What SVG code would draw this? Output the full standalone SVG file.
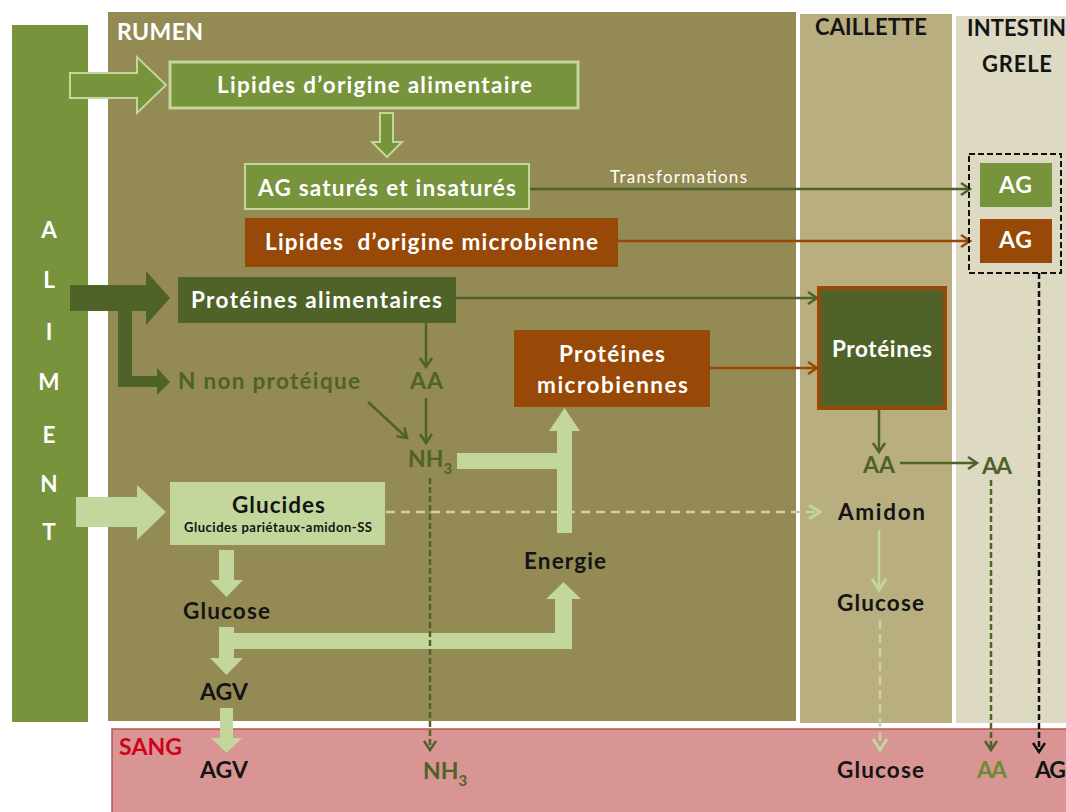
<svg xmlns="http://www.w3.org/2000/svg" width="1066" height="812" viewBox="0 0 1066 812">
<style>
text{font-family:Lato,"Liberation Sans",sans-serif;font-weight:700;font-size:22.5px}
.w{fill:#ffffff}
.k{fill:#141414}
.g{fill:#4F6228}
.c{font-size:23px}
.h{font-size:22px}
.hb{font-size:23px}
.big{font-size:25px}
.sm{font-size:17px;font-weight:400}
.tiny{font-size:13px}
.pre{white-space:pre}
.ln{fill:none;stroke-width:2.5}
.dg{stroke:#4F6228}
.br{stroke:#984807}
.lg{stroke:#C3D69B}
.bk{stroke:#111111}
</style>
<defs>
<marker id="mdg" viewBox="0 0 10 12" refX="9" refY="6" markerWidth="10" markerHeight="12" markerUnits="userSpaceOnUse" orient="auto" overflow="visible"><path d="M0,0 L9,6 L0,12" fill="none" stroke="#4F6228" stroke-width="2.5"/></marker>
<marker id="mbr" viewBox="0 0 10 12" refX="9" refY="6" markerWidth="10" markerHeight="12" markerUnits="userSpaceOnUse" orient="auto" overflow="visible"><path d="M0,0 L9,6 L0,12" fill="none" stroke="#984807" stroke-width="2.5"/></marker>
<marker id="mlg" viewBox="0 0 12 14" refX="11" refY="7" markerWidth="12" markerHeight="14" markerUnits="userSpaceOnUse" orient="auto" overflow="visible"><path d="M0,0 L11,7 L0,14" fill="none" stroke="#C3D69B" stroke-width="3"/></marker>
<marker id="mbk" viewBox="0 0 10 12" refX="9" refY="6" markerWidth="10" markerHeight="12" markerUnits="userSpaceOnUse" orient="auto" overflow="visible"><path d="M0,0 L9,6 L0,12" fill="none" stroke="#111111" stroke-width="2.5"/></marker>
</defs>
<rect width="1066" height="812" fill="#ffffff"/>
<g id="panels">
<rect x="108" y="12" width="688" height="709" fill="#948A54"/>
<rect x="800" y="14" width="152" height="709" fill="#B8AE80"/>
<rect x="956" y="16" width="115" height="707" fill="#DDD9C3"/>
<rect x="112" y="729" width="960" height="90" fill="#D99594" stroke="#C0504D" stroke-width="1.5"/>
<text x="117" y="40" class="w hb" textLength="86">RUMEN</text>
<text x="815" y="35" class="k h" textLength="112">CAILLETTE</text>
<text x="967" y="36" class="k h" textLength="99">INTESTIN</text>
<text x="982" y="72" class="k h" textLength="70">GRELE</text>
<text x="119" y="755" class="hb" fill="#D0021B" textLength="63">SANG</text>
</g>
<g id="aliment">
<rect x="12" y="25" width="76" height="697" fill="#77933C"/>
<g class="w big" text-anchor="middle">
<text x="49" y="238">A</text><text x="49" y="288">L</text><text x="49" y="340">I</text><text x="49" y="390">M</text><text x="49" y="443">E</text><text x="49" y="492">N</text><text x="49" y="540">T</text>
</g>
</g>
<g id="connectors">
<polygon points="70,73 137,73 137,57 166,85 137,113 137,98 70,98" fill="#77933C" stroke="#C3D69B" stroke-width="2"/>
<polygon points="380,113 393,113 393,142 402,142 387,157 372,142 380,142" fill="#77933C" stroke="#C3D69B" stroke-width="2"/>
<polygon points="70,285 146,285 146,271 170,298 146,325 146,311 132,311 132,376 157,376 157,368 170,382 157,395 157,387 118,387 118,311 70,311" fill="#4F6228"/>
<polygon points="76,497 137,497 137,485 166,512 137,540 137,527 76,527" fill="#C3D69B"/>
<polygon points="219,550 234,550 234,580 243,580 226.5,597 210,580 219,580" fill="#C3D69B"/>
<polygon points="219,627 234,627 234,633 555,633 555,599 546,599 563.5,582 581,599 572,599 572,649 234,649 234,658 243,658 226.5,675 210,658 219,658" fill="#C3D69B"/>
<polygon points="220,708 233,708 233,738 242,738 226.5,753 211,738 220,738" fill="#C3D69B"/>
<polygon points="457,453 557,453 557,431 549,431 564.5,408 580,431 572,431 572,533 557,533 557,469 457,469" fill="#C3D69B"/>
<line x1="530" y1="189" x2="970" y2="189" class="ln dg" marker-end="url(#mdg)"/>
<line x1="618" y1="241" x2="970" y2="241" class="ln br" marker-end="url(#mbr)"/>
<line x1="456" y1="298" x2="817" y2="298" class="ln dg" marker-end="url(#mdg)"/>
<line x1="710" y1="368" x2="817" y2="368" class="ln br" marker-end="url(#mbr)"/>
<line x1="426" y1="323" x2="426" y2="367" class="ln dg" marker-end="url(#mdg)"/>
<line x1="426" y1="398" x2="426" y2="443" class="ln dg" marker-end="url(#mdg)"/>
<line x1="368" y1="402" x2="407" y2="438" class="ln dg" marker-end="url(#mdg)"/>
<line x1="879" y1="409" x2="879" y2="452" class="ln dg" marker-end="url(#mdg)"/>
<line x1="900" y1="463" x2="977" y2="463" class="ln dg" marker-end="url(#mdg)"/>
<line x1="386" y1="512" x2="820" y2="512" class="ln lg" stroke-width="3.5" stroke-dasharray="9 6" marker-end="url(#mlg)"/>
<line x1="430" y1="478" x2="430" y2="750" class="ln dg" stroke-dasharray="6 3" marker-end="url(#mdg)"/>
<line x1="991" y1="480" x2="991" y2="750" class="ln dg" stroke-dasharray="6 3" marker-end="url(#mdg)"/>
<line x1="1039" y1="273" x2="1039" y2="752" class="ln bk" stroke-dasharray="6 3" marker-end="url(#mbk)"/>
<line x1="879" y1="530" x2="879" y2="590" class="ln lg" stroke-width="3.5" marker-end="url(#mlg)"/>
<line x1="880" y1="620" x2="880" y2="750" class="ln lg" stroke-width="4" stroke-dasharray="9 5" marker-end="url(#mlg)"/>
<text x="610" y="183" class="w sm" textLength="137">Transformations</text>
</g>
<g id="lipides-alim">
<rect x="170" y="62" width="408" height="46" fill="#77933C" stroke="#C3D69B" stroke-width="3"/>
<text x="217" y="93" class="w" textLength="315">Lipides d’origine alimentaire</text>
</g>
<g id="ag-satures">
<rect x="245" y="164" width="284" height="45" fill="#77933C" stroke="#C3D69B" stroke-width="2"/>
<text x="258" y="196" class="w" textLength="258">AG saturés et insaturés</text>
</g>
<g id="lipides-microb">
<rect x="245" y="218" width="373" height="49" fill="#984807"/>
<text x="265" y="250" class="w pre" textLength="333">Lipides  d’origine microbienne</text>
</g>
<g id="ag-box">
<rect x="969" y="154" width="92" height="119" fill="none" stroke="#111111" stroke-width="2" stroke-dasharray="6 3"/>
</g>
<g id="ag1">
<rect x="980" y="163" width="72" height="44" fill="#77933C"/>
<text x="999" y="193" class="w c" textLength="33">AG</text>
</g>
<g id="ag2">
<rect x="980" y="219" width="72" height="44" fill="#984807"/>
<text x="999" y="248" class="w c" textLength="33">AG</text>
</g>
<g id="proteines-alim">
<rect x="178" y="277" width="278" height="46" fill="#4F6228"/>
<text x="191" y="308" class="w" textLength="251">Protéines alimentaires</text>
</g>
<g id="n-non-proteique"><text x="178" y="389" class="g" textLength="182">N non protéique</text></g>
<g id="aa-rumen"><text x="410" y="389" class="g c" textLength="33">AA</text></g>
<g id="nh3-rumen"><text x="408" y="467" class="g c">NH<tspan font-size="15" dy="7">3</tspan></text></g>
<g id="proteines-microb">
<rect x="514" y="330" width="196" height="77" fill="#984807"/>
<text x="559" y="362" class="w" textLength="106">Protéines</text>
<text x="537" y="393" class="w" textLength="151">microbiennes</text>
</g>
<g id="proteines-caillette">
<rect x="819" y="288" width="126" height="120" fill="#4F6228" stroke="#984807" stroke-width="4"/>
<text x="832" y="357" class="w" textLength="100">Protéines</text>
</g>
<g id="aa-caillette"><text x="863" y="473" class="g c" textLength="32">AA</text></g>
<g id="aa-intestin"><text x="982" y="474" class="g c" textLength="30">AA</text></g>
<g id="glucides">
<rect x="170" y="482" width="215" height="63" fill="#C3D69B"/>
<text x="232" y="513" class="k" textLength="93">Glucides</text>
<text x="184" y="532" class="k tiny" textLength="188">Glucides pariétaux-amidon-SS</text>
</g>
<g id="amidon"><text x="838" y="520" class="k" textLength="87">Amidon</text></g>
<g id="energie"><text x="524" y="569" class="k" textLength="82">Energie</text></g>
<g id="glucose-rumen"><text x="183" y="619" class="k" textLength="87">Glucose</text></g>
<g id="glucose-caillette"><text x="837" y="611" class="k" textLength="87">Glucose</text></g>
<g id="agv-rumen"><text x="200" y="700" class="k c" textLength="48">AGV</text></g>
<g id="sang-agv"><text x="200" y="778" class="k c" textLength="48">AGV</text></g>
<g id="sang-nh3"><text x="423" y="779" class="g c">NH<tspan font-size="15" dy="7">3</tspan></text></g>
<g id="sang-glucose"><text x="837" y="778" class="k" textLength="87">Glucose</text></g>
<g id="sang-aa"><text x="977" y="778" class="c" fill="#6E8A36" textLength="30">AA</text></g>
<g id="sang-ag"><text x="1035" y="778" class="k c" textLength="31">AG</text></g>
</svg>
